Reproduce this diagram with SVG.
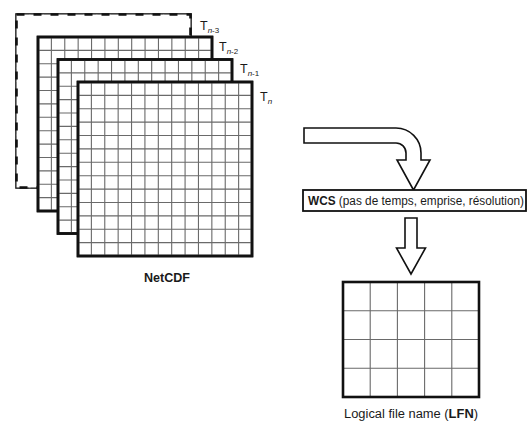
<svg xmlns="http://www.w3.org/2000/svg" xmlns:xlink="http://www.w3.org/1999/xlink" width="528" height="427" viewBox="0 0 528 427">
<style>
.sheet{fill:#fff;stroke:#111;stroke-width:2.6}
.dashed{stroke-dasharray:8 9}
.grid{fill:none;stroke:#6a6a6a;stroke-width:1.1}
.arrow{fill:#fff;stroke:#111;stroke-width:1.6;stroke-linejoin:miter}
.box{fill:#fff;stroke:#111;stroke-width:1.8}
.lbl{font-family:"Liberation Sans",Arial,sans-serif;fill:#1a1a1a;font-size:12px}
.b{font-weight:bold}
.t{font-family:"Liberation Sans",Arial,sans-serif;fill:#1a1a1a;font-size:12.5px}
.sub{font-size:8px}
</style>
<defs>
<path id="grid13" d="M13.38 0V174M26.77 0V174M40.15 0V174M53.54 0V174M66.92 0V174M80.31 0V174M93.69 0V174M107.08 0V174M120.46 0V174M133.85 0V174M147.23 0V174M160.62 0V174M0 13.38H174M0 26.77H174M0 40.15H174M0 53.54H174M0 66.92H174M0 80.31H174M0 93.69H174M0 107.08H174M0 120.46H174M0 133.85H174M0 147.23H174M0 160.62H174"/>
</defs>
<rect width="528" height="427" fill="#fff"/>

<g id="node-tn3">
<g transform="translate(16.5,14.5)">
<rect class="sheet" x="0" y="0" width="174" height="173" stroke="none"/>
<use href="#grid13" class="grid"/>
<rect class="sheet dashed" x="0" y="0" width="174" height="173" fill="none" stroke-width="3"/>
</g>
<text class="t" x="200" y="30">T<tspan class="sub" dy="3"><tspan font-style="italic">n</tspan>-3</tspan></text>
</g>

<g id="node-tn2">
<g transform="translate(38,37)">
<rect class="sheet" x="0" y="0" width="174" height="174"/>
<use href="#grid13" class="grid"/>
<rect x="0" y="0" width="174" height="174" fill="none" stroke="#111" stroke-width="2.6"/>
</g>
<text class="t" x="219" y="51">T<tspan class="sub" dy="3"><tspan font-style="italic">n</tspan>-2</tspan></text>
</g>

<g id="node-tn1">
<g transform="translate(58,59.5)">
<rect class="sheet" x="0" y="0" width="174" height="174"/>
<use href="#grid13" class="grid"/>
<rect x="0" y="0" width="174" height="174" fill="none" stroke="#111" stroke-width="2.6"/>
</g>
<text class="t" x="240" y="73">T<tspan class="sub" dy="3"><tspan font-style="italic">n</tspan>-1</tspan></text>
</g>

<g id="node-tn">
<g transform="translate(78,82)">
<rect class="sheet" x="0" y="0" width="174" height="174"/>
<use href="#grid13" class="grid"/>
<rect x="0" y="0" width="174" height="174" fill="none" stroke="#111" stroke-width="2.6"/>
</g>
<text class="t" x="260" y="101">T<tspan class="sub" dy="3"><tspan font-style="italic">n</tspan></tspan></text>
<text class="lbl b" x="167" y="282" text-anchor="middle" font-size="12.5" textLength="46" lengthAdjust="spacingAndGlyphs">NetCDF</text>
</g>

<g id="connectors">
<path class="arrow" d="M304 128H396A25 25 0 0 1 421 153V160H430L413.5 190L397 160H406V153A10 10 0 0 0 396 143H304Z"/>
<path class="arrow" d="M405 218H417V248H425.5L411 274L396.5 248H405Z"/>
</g>

<g id="node-wcs">
<rect class="box" x="303" y="190" width="223" height="21"/>
<text class="lbl" x="308" y="205" textLength="216" lengthAdjust="spacingAndGlyphs"><tspan class="b">WCS</tspan> (pas de temps, emprise, résolution)</text>
</g>

<g id="node-lfn">
<rect x="343" y="282" width="136" height="115" fill="#fff"/>
<path class="grid" stroke="#999" stroke-width="1.4" d="M370.2 282V397M397.4 282V397M424.6 282V397M451.8 282V397M343 310.75H479M343 339.5H479M343 368.25H479"/>
<rect x="343" y="282" width="136" height="115" fill="none" stroke="#111" stroke-width="2.6"/>
<text class="lbl" x="344" y="418" font-size="12.5" textLength="134" lengthAdjust="spacingAndGlyphs">Logical file name (<tspan class="b">LFN</tspan>)</text>
</g>
</svg>
